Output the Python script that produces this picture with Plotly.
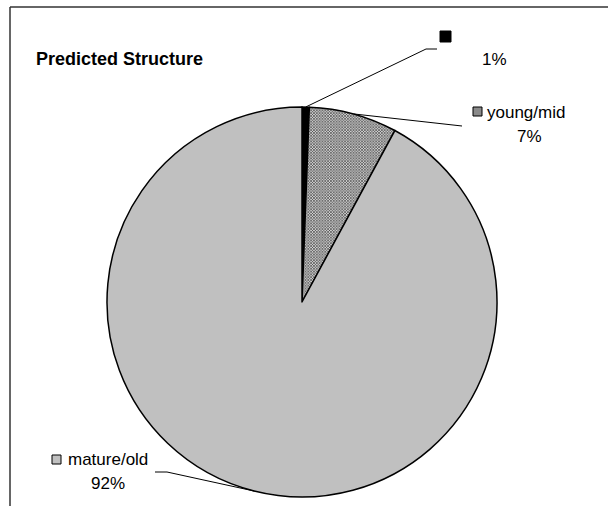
import math
import plotly.graph_objects as go

# ---- data ----
categories = ["", "young/mid", "mature/old"]
values = [0.6, 7.3, 92.1]
pct_labels = ["1%", "7%", "92%"]
title_text = "Predicted Structure"

W, H = 608, 506
FONT = "Liberation Sans, Arial, sans-serif"

def px(x):
    return x / W

def py(y):
    return 1 - y / H

# pie geometry in pixels
cx, cy, R = 302, 302, 195
dom_x = [px(cx - R), px(cx + R)]
dom_y = [py(cy + R), py(cy - R)]

colors = ["#000000", "#D0D0D0", "#C0C0C0"]

fig = go.Figure(go.Pie(
    labels=categories,
    values=values,
    sort=False,
    direction="clockwise",
    rotation=0,
    textinfo="none",
    hoverinfo="label+percent",
    showlegend=False,
    domain=dict(x=dom_x, y=dom_y),
    marker=dict(
        colors=colors,
        line=dict(color="#000000", width=1.5),
        pattern=dict(
            shape=["", "x", ""],
            fgcolor="#333333",
            bgcolor="#D0D0D0",
            size=2,
            solidity=0.5,
        ),
    ),
))

# edge point of each slice at its mid-angle (clockwise from 12 o'clock)
total = sum(values)
edge = []
acc = 0.0
for v in values:
    mid = (acc + v / 2) / total * 2 * math.pi
    edge.append((cx + R * math.sin(mid), cy - R * math.cos(mid)))
    acc += v

shapes = []
line_style = dict(color="#000000", width=1)

# leader lines (pixel waypoints for label ends)
leaders = [
    [edge[0], (426, 49), (437, 49)],
    [edge[1], (462, 126)],
    [edge[2], (167, 472), (155, 472)],
]
for pts in leaders:
    for (x0, y0), (x1, y1) in zip(pts[:-1], pts[1:]):
        shapes.append(dict(type="line", xref="paper", yref="paper",
                           x0=px(x0), y0=py(y0), x1=px(x1), y1=py(y1),
                           line=line_style))

# legend-key squares
keys = [
    ((440, 31, 451, 42), "#000000"),
    ((473, 107, 482, 116), "#8A8A8A"),
    ((52, 455, 61, 464), "#C0C0C0"),
]
for (x0, y0, x1, y1), col in keys:
    shapes.append(dict(type="rect", xref="paper", yref="paper",
                       x0=px(x0), y0=py(y1), x1=px(x1), y1=py(y0),
                       fillcolor=col, line=dict(color="#000000", width=1)))

# chart frame (top and left edges visible)
frame_col = "#333333"
shapes.append(dict(type="line", xref="paper", yref="paper",
                   x0=px(10), y0=py(7), x1=1.0, y1=py(7),
                   line=dict(color=frame_col, width=1.5)))
shapes.append(dict(type="line", xref="paper", yref="paper",
                   x0=px(10), y0=py(7), x1=px(10), y1=0.0,
                   line=dict(color=frame_col, width=1.5)))

annotations = []

def ann(text, x, y, xanchor="center", size=17, bold=False):
    annotations.append(dict(
        text=f"<b>{text}</b>" if bold else text,
        x=px(x), y=py(y), xref="paper", yref="paper",
        xanchor=xanchor, yanchor="middle", showarrow=False,
        font=dict(family=FONT, size=size, color="#000000"),
    ))

ann(title_text, 34, 59, xanchor="left", size=18, bold=True)
ann(pct_labels[0], 494, 60)
ann(categories[1], 485, 112, xanchor="left")
ann(pct_labels[1], 529, 136)
ann(categories[2], 66, 459, xanchor="left")
ann(pct_labels[2], 108, 483)

fig.update_layout(
    width=W, height=H,
    margin=dict(l=0, r=0, t=0, b=0),
    paper_bgcolor="#FFFFFF",
    plot_bgcolor="#FFFFFF",
    shapes=shapes,
    annotations=annotations,
    showlegend=False,
)

fig.write_html("out.html")
